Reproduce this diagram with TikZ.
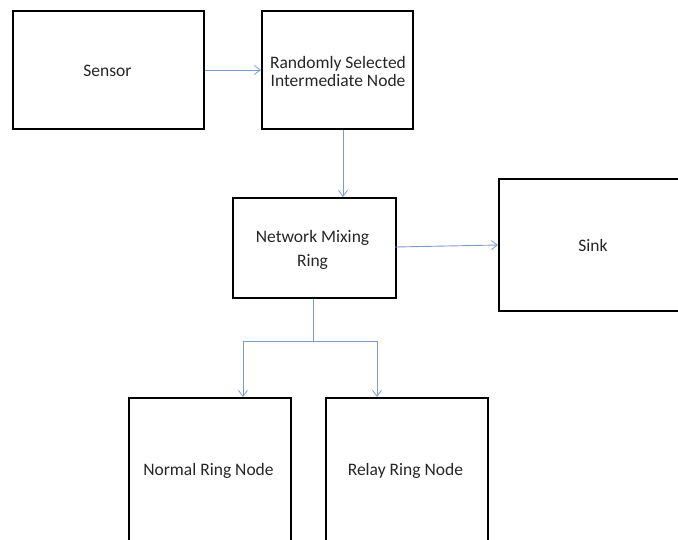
\documentclass[tikz,border=0pt]{standalone}
\usepackage{fontspec}
\setmainfont{Carlito}
\usetikzlibrary{arrows.meta}
\definecolor{conn}{HTML}{7B9CCB}
\tikzset{
  box/.style={draw=black, line width=2.2pt, fill=white, inner sep=0pt},
  conn/.style={draw=conn, line width=0.9pt, -{Straight Barb[length=6pt,width=9pt,line width=0.8pt]}},
  lbl/.style={font=\fontsize{17.5pt}{18.4pt}\selectfont, text=black!85, align=center},
  lblwide/.style={lbl, font=\fontsize{17.5pt}{24pt}\selectfont},
}
\begin{document}
\begin{tikzpicture}[x=1pt,y=-1pt]
\useasboundingbox (0,0) rectangle (678,539);
\clip (0,0) rectangle (678,539);
% boxes
\node[box, minimum width=191pt, minimum height=118pt, anchor=north west] (sensor) at (12,10) {};
\node[box, minimum width=151pt, minimum height=118pt, anchor=north west] (rand) at (261,10) {};
\node[box, minimum width=163pt, minimum height=100pt, anchor=north west] (nmr) at (232,197) {};
\node[box, minimum width=200pt, minimum height=132pt, anchor=north west] (sink) at (498,178) {};
\node[box, minimum width=162pt, minimum height=160pt, anchor=north west] (normal) at (128,397) {};
\node[box, minimum width=162pt, minimum height=160pt, anchor=north west] (relay) at (325,397) {};
% labels
\node[lbl, anchor=base] (tsensor) at (107.5,76.7) {Sensor};
\node[lbl] (trand) at (338,71.3) {Randomly Selected\\Intermediate Node};
\node[lblwide] (tnmr) at (312.5,250.2) {Network Mixing\\Ring};
\node[lbl, anchor=base] (tsink) at (593,251) {Sink};
\node[lbl, anchor=base] (tnormal) at (208.5,475.7) {Normal Ring Node};
\node[lbl, anchor=base] (trelay) at (405.4,475.7) {Relay Ring Node};
% connectors
\draw[conn] (sensor.east |- 0,70) -- (rand.west |- 0,70);
\draw[conn] (rand.south -| 343,0) -- (nmr.north -| 343,0);
\draw[conn] (395,247) -- (498,245);
\coordinate (split) at (313,341);
\draw[draw=conn, line width=0.9pt] (nmr.south -| split) -- (split);
\draw[conn] (split) -| (243,397);
\draw[conn] (split) -| (377,397);
\end{tikzpicture}
\end{document}
